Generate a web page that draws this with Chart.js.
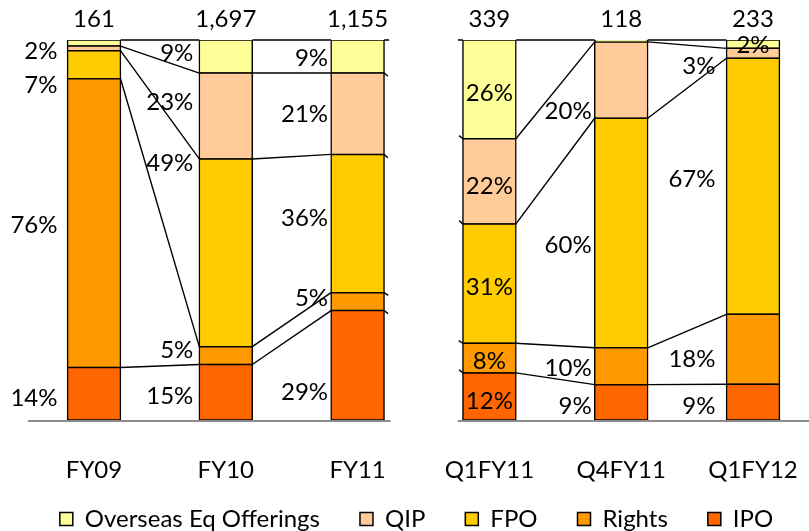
<!DOCTYPE html>
<html>
<head>
<meta charset="utf-8">
<title>Equity issuance mix</title>
<script src="https://cdn.jsdelivr.net/npm/chart.js@4.4.0/dist/chart.umd.min.js"></script>
<style>
  html, body { margin: 0; padding: 0; background: #fff; overflow: hidden; }
</style>
</head>
<body>
<canvas id="chart" width="809" height="531"></canvas>
<script>
var categories = ['FY09', 'FY10', 'FY11', 'Q1FY11', 'Q4FY11', 'Q1FY12'];
var totals = [161, 1697, 1155, 339, 118, 233];

// share of each route in the total raised, %
var ipo      = [13.8, 14.6, 28.8, 12.4,  9.3,  9.4];
var rights   = [76.0,  4.7,  4.7,  7.8,  9.7, 18.4];
var fpo      = [ 7.4, 49.4, 36.4, 31.4, 60.4, 67.4];
var qip      = [ 1.2, 22.6, 21.4, 22.4, 20.1,  2.6];
var overseas = [ 1.6,  8.7,  8.7, 26.0,  0.5,  2.2];

var seriesNames = ['IPO', 'Rights', 'FPO', 'QIP', 'Overseas Eq Offerings'];
var seriesData = [ipo, rights, fpo, qip, overseas];
var seriesColors = ['#FF6600', '#FF9900', '#FFCC00', '#FFCC99', '#FFFF99'];

var fontFamily = "Lato, 'DejaVu Sans Condensed', sans-serif";
var fontSize = 24;
Chart.defaults.font.family = fontFamily;
Chart.defaults.color = '#000';

// where the % labels sit (they were moved by hand in the original)
var labelSide = ['left', 'left', 'left', 'in', 'left', 'left'];
var labelGap = [10, 6, 3, 0, 3, 11];
var labelNudge = [
  [3, 1.5, 20, 0, 7],
  [3.5, -6, -91, -15, -4.5],
  [26, -4, -6, 0, 1],
  [4, 2, 3, 4, 2.5],
  [3, 1.5, 11, 30, 0],
  [3, 8.5, -8, 11.5, 0]
];

var datasets = [];
for (var s = 0; s < seriesNames.length; s++) {
  datasets.push({
    label: seriesNames[s],
    data: seriesData[s].map(function (v, i) { return { x: i, y: v }; }),
    backgroundColor: seriesColors[s],
    borderColor: '#000',
    borderWidth: 1.5,
    borderSkipped: false,
    inflateAmount: 0.75,
    barThickness: 53
  });
}

var axisLine = {
  id: 'axisLine',
  beforeDatasetsDraw: function (chart) {
    var ctx = chart.ctx;
    var xs = chart.scales.x;
    var y = chart.chartArea.bottom + 1;
    ctx.save();
    ctx.strokeStyle = '#8c8c8c';
    ctx.lineWidth = 2;
    ctx.beginPath();
    ctx.moveTo(xs.getPixelForValue(-0.5), y);
    ctx.lineTo(xs.getPixelForValue(2.25), y);
    ctx.moveTo(xs.getPixelForValue(2.76), y);
    ctx.lineTo(chart.width, y);
    ctx.stroke();
    ctx.restore();
  }
};

var connectors = {
  id: 'connectors',
  afterDatasetsDraw: function (chart) {
    var ctx = chart.ctx;
    ctx.save();
    ctx.strokeStyle = '#000';
    ctx.lineWidth = 1.4;
    chart.data.datasets.forEach(function (ds, d) {
      var bars = chart.getDatasetMeta(d).data;
      for (var i = 0; i < bars.length - 1; i++) {
        var a = bars[i], b = bars[i + 1];
        var x1 = a.x + a.width / 2, y1 = a.y;
        var x2 = b.x - b.width / 2, y2 = b.y;
        ctx.beginPath();
        if (i === 2) {
          // gap between the two panels: only small stubs of the line show
          var len = Math.sqrt((x2 - x1) * (x2 - x1) + (y2 - y1) * (y2 - y1));
          var ux = (x2 - x1) / len, uy = (y2 - y1) / len;
          ctx.moveTo(x1, y1);
          ctx.lineTo(x1 + ux * 5, y1 + uy * 5);
          ctx.moveTo(x2, y2);
          ctx.lineTo(x2 - ux * 5, y2 - uy * 5);
        } else {
          ctx.moveTo(x1, y1);
          ctx.lineTo(x2, y2);
        }
        ctx.stroke();
      }
    });
    ctx.restore();
  }
};

var segLabels = {
  id: 'segLabels',
  afterDatasetsDraw: function (chart) {
    var ctx = chart.ctx;
    ctx.save();
    ctx.font = fontSize + 'px ' + fontFamily;
    ctx.fillStyle = '#000';
    ctx.textBaseline = 'middle';
    chart.data.datasets.forEach(function (ds, d) {
      var bars = chart.getDatasetMeta(d).data;
      bars.forEach(function (bar, i) {
        var v = ds.data[i].y;
        if (v < 1.5) return;
        var p = bar.getProps(['x', 'y', 'base', 'width'], true);
        var y = (p.y + p.base) / 2 + labelNudge[i][d] + 1;
        var txt = Math.round(v) + '%';
        if (labelSide[i] === 'in' || (i === 5 && d === 4)) {
          ctx.textAlign = 'center';
          ctx.fillText(txt, p.x, y);
        } else {
          ctx.textAlign = 'right';
          ctx.fillText(txt, p.x - p.width / 2 - labelGap[i], y);
        }
      });
    });
    // totals over the bars
    var first = chart.getDatasetMeta(0).data;
    ctx.textAlign = 'center';
    for (var i = 0; i < totals.length; i++) {
      ctx.fillText(totals[i].toLocaleString('en-US'), first[i].x, chart.chartArea.top - 20.5);
    }
    ctx.restore();
  }
};

// legend sits a bit higher and right of where chart.js would put it
var legendMove = {
  id: 'legendMove',
  afterLayout: function (chart) {
    var lg = chart.legend;
    lg.top = 467;
    lg.bottom = chart.height;
    lg.height = lg.bottom - lg.top;
    lg.left += 12;
    lg.right += 12;
  }
};

var unit = 131.8;
var xMin = -94 / unit;
var xMax = xMin + 809 / unit;

new Chart(document.getElementById('chart'), {
  type: 'bar',
  data: { datasets: datasets },
  options: {
    responsive: false,
    animation: false,
    devicePixelRatio: 1,
    layout: { padding: { top: 40, left: 0, right: 0, bottom: 0 } },
    scales: {
      x: {
        type: 'linear',
        min: xMin,
        max: xMax,
        stacked: true,
        offset: false,
        grid: { display: false, drawTicks: false },
        border: { display: false },
        afterBuildTicks: function (axis) {
          axis.ticks = categories.map(function (c, i) { return { value: i }; });
        },
        afterFit: function (axis) {
          axis.paddingLeft = 0;
          axis.paddingRight = 0;
          axis.height = 67;
        },
        ticks: {
          font: { size: fontSize },
          color: '#000',
          padding: 35.6,
          maxRotation: 0,
          autoSkip: false,
          callback: function (v) { return categories[v]; }
        }
      },
      y: { display: false, stacked: true, min: 0, max: 100 }
    },
    plugins: {
      legend: {
        position: 'bottom',
        reverse: true,
        maxHeight: 44,
        labels: {
          boxWidth: 13,
          boxHeight: 13,
          padding: 40,
          color: '#000',
          font: { size: fontSize }
        }
      },
      tooltip: { enabled: false }
    }
  },
  plugins: [axisLine, connectors, segLabels, legendMove]
});
</script>
</body>
</html>
